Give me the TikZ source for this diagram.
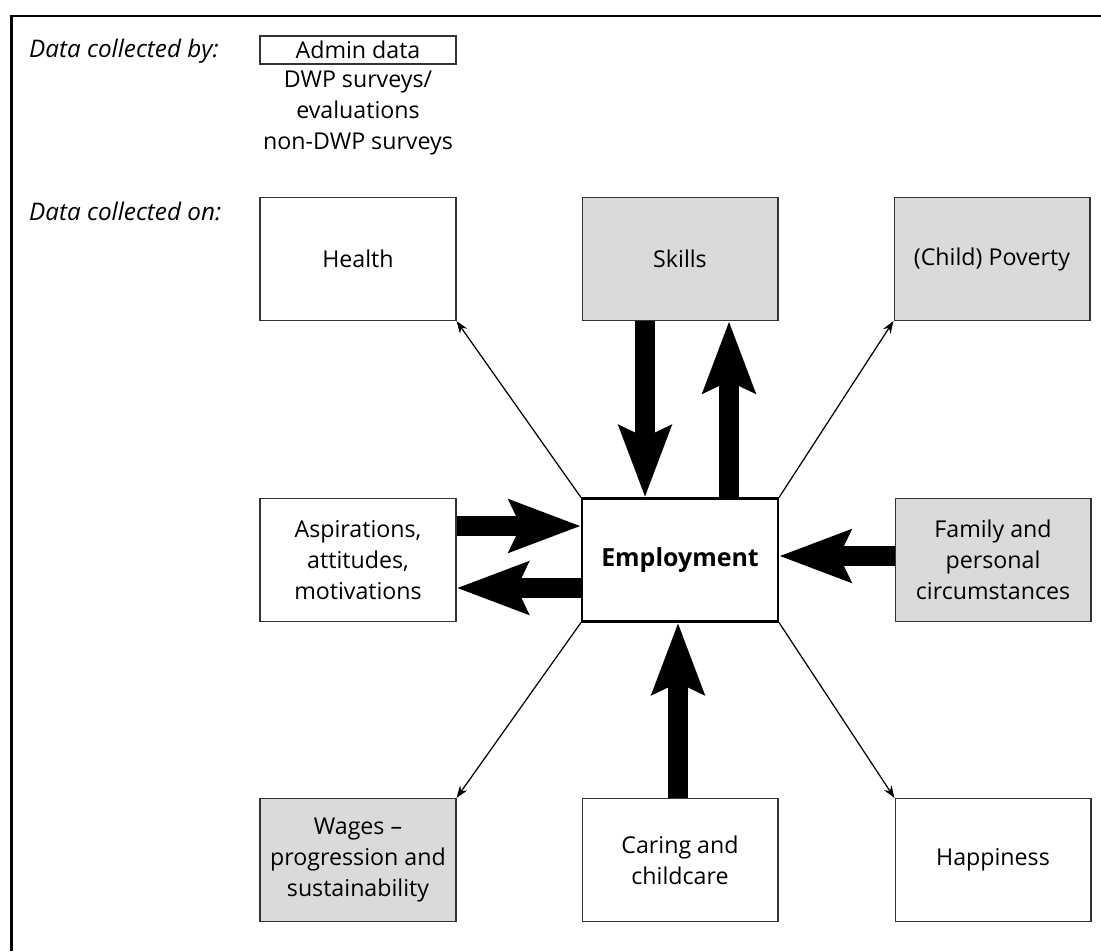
\documentclass[tikz,border=0pt]{standalone}
\usepackage{fontspec}
\setmainfont{Open Sans}
\usetikzlibrary{arrows.meta}
\definecolor{boxgrey}{HTML}{D9DADC}

\begin{document}
\begin{tikzpicture}[
	x=0.02cm,
	y=-0.02cm,
	font=\fontsize{13.2}{17.8}\selectfont,
	area/.style={rectangle, draw=black!80, line width=0.6pt, minimum width=3.92cm, minimum height=2.46cm, inner sep=2pt, align=center},
	survey/.style={area, fill=boxgrey},
	hub/.style={area, draw=black, line width=1.2pt, font=\fontsize{14.2}{17}\selectfont\bfseries},
	flow/.style={line width=0.41cm, -{Stealth[length=1.42cm, width=1.02cm, inset=0.22cm]}},
	link/.style={line width=0.7pt, -{Stealth[length=7pt, width=5pt]}},
	tag/.style={font=\fontsize{13.8}{17.8}\selectfont\itshape, anchor=west}
	]
	\useasboundingbox (0,0) rectangle (1101,951);
	\draw[line width=1.7pt] (11.5,951) -- (11.5,16) -- (1101,16);

	\node[tag] (by) at (23,51) {Data collected by:};
	\node[area, minimum height=0.56cm] (admin) at (358,50) {Admin data};
	\node[align=center] (dwp) at (358,113) {DWP surveys/\\evaluations\\non-DWP surveys};
	\node[tag] (on) at (23,211) {Data collected on:};

	\node[area] (health) at (358,259) {Health};
	\node[survey] (skills) at (680,259) {Skills};
	\node[survey] (poverty) at (992,259) {(Child) Poverty};
	\node[area] (aspire) at (358,560) {Aspirations,\\attitudes,\\motivations};
	\node[hub] (emp) at (680,560) {Employment};
	\node[survey] (family) at (993,560) {Family and\\personal\\circumstances};
	\node[survey] (wages) at (358,860) {Wages --\\progression and\\sustainability};
	\node[area] (caring) at (680,860) {Caring and\\childcare};
	\node[area] (happy) at (993,860) {Happiness};

	\draw[flow] ([xshift=-0.7cm]skills.south) -- ([xshift=-0.7cm]emp.north);
	\draw[flow] ([xshift=0.98cm]emp.north) -- ([xshift=0.98cm]skills.south);
	\draw[flow] ([yshift=0.68cm]aspire.east) -- ([yshift=0.68cm]emp.west);
	\draw[flow] ([yshift=-0.56cm]emp.west) -- ([yshift=-0.56cm]aspire.east);
	\draw[flow] ([yshift=0.08cm]family.west) -- ([yshift=0.08cm]emp.east);
	\draw[flow] ([xshift=-0.04cm]caring.north) -- ([xshift=-0.04cm]emp.south);

	\draw[link] (emp.north west) -- (health.south east);
	\draw[link] (emp.north east) -- (poverty.south west);
	\draw[link] (emp.south west) -- (wages.north east);
	\draw[link] (emp.south east) -- (happy.north west);
\end{tikzpicture}
\end{document}
